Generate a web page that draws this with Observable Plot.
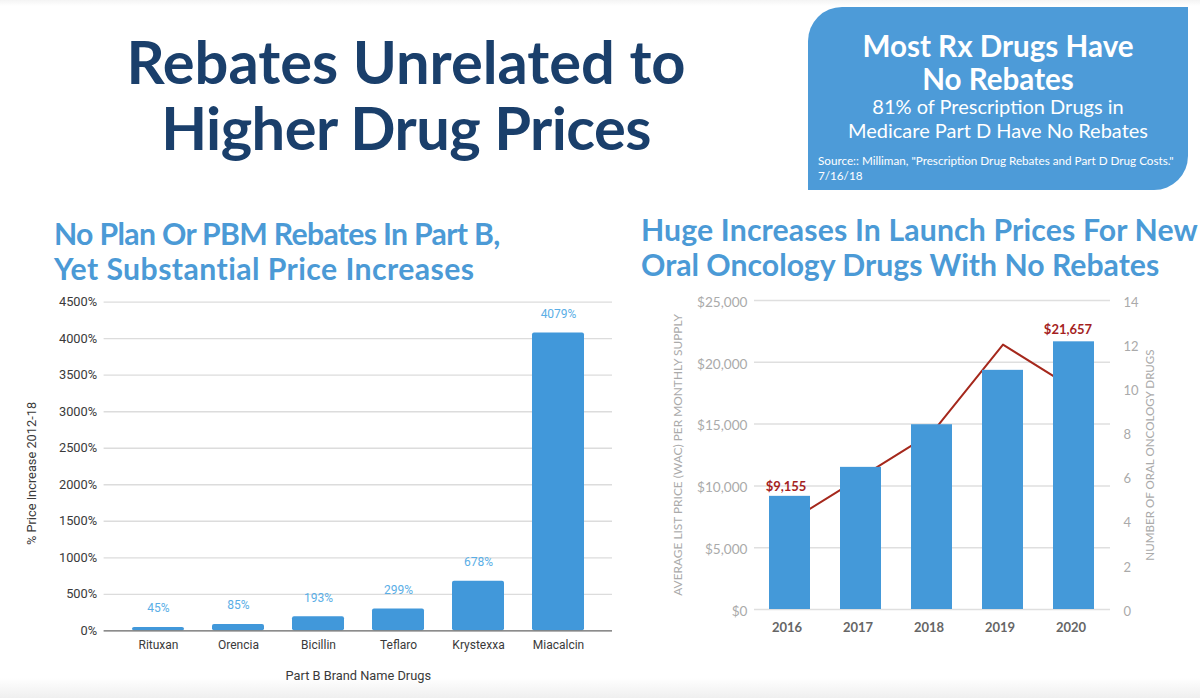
<!DOCTYPE html>
<html>
<head>
<meta charset="utf-8">
<script src="https://cdn.jsdelivr.net/npm/d3@7"></script>
<script src="https://cdn.jsdelivr.net/npm/@observablehq/plot@0.6"></script>
<style>
html,body{margin:0;padding:0;background:#fff}
#page{position:relative;width:1200px;height:698px;overflow:hidden;font-family:Lato,sans-serif;
 background:linear-gradient(to bottom,#f4f4f4 0,#fff 6px,#fff 678px,#efefef 698px)}
#page>*{position:absolute}
.title{left:56px;width:700px;top:28px;text-align:center;color:#1a3f6b;font-weight:700;font-size:59.6px;line-height:66px}
.sub{color:#4b9ad6;font-weight:700;font-size:30.2px;line-height:35px;white-space:nowrap}
#box{left:808px;top:7px;width:380px;height:183px;background:#4d9bd8;border-radius:34px 0 34px 0;color:#fff;text-align:center}
#box div{position:absolute;left:0;width:100%;white-space:nowrap}
#plotL{left:0;top:280px}
#plotR{left:640px;top:280px}
svg{background:transparent!important}
</style>
</head>
<body>
<div id="page">
  <div class="title">Rebates Unrelated to<br><span style="letter-spacing:-0.55px">Higher Drug Prices</span></div>
  <div id="box">
    <div style="top:22px;font-size:29.6px;line-height:33px;font-weight:700">Most Rx Drugs Have<br>No Rebates</div>
    <div style="top:87px;font-size:20px;line-height:24px">81% of Prescription Drugs in<br>Medicare Part D Have No Rebates</div>
    <div style="top:146px;left:10px;text-align:left;font-size:11.7px;line-height:14.5px">Source:: Milliman, "Prescription Drug Rebates and Part D Drug Costs."<br>7/16/18</div>
  </div>
  <div class="sub" style="left:54px;top:216px"><span style="letter-spacing:-0.67px">No Plan Or PBM Rebates In Part B,</span><br><span style="letter-spacing:0.43px">Yet Substantial Price Increases</span></div>
  <div class="sub" style="left:641px;top:212px"><span style="letter-spacing:0.15px">Huge Increases In Launch Prices For New</span><br>Oral Oncology Drugs With No Rebates</div>
  <div id="plotL"></div>
  <div id="plotR"></div>
</div>
<script>
const drugs = ["Rituxan","Orencia","Bicillin","Teflaro","Krystexxa","Miacalcin"];
const increases = [45,85,193,299,678,4079];
const percentTicks = [0,500,1000,1500,2000,2500,3000,3500,4000,4500];

const years = ["2016","2017","2018","2019","2020"];
const avgPrice = [9155,11500,14950,19350,21657];
const drugCounts = [4,6,8,12,10];
const priceTicks = [0,5000,10000,15000,20000,25000];
const countTicks = [0,2,4,6,8,10,12,14];

const barBlue = "#4198da";
const chartLeft = Plot.plot({
  width:620,height:418,marginTop:21.7,marginBottom:67.7,marginLeft:103.6,marginRight:8,
  style:{fontFamily:"Roboto,sans-serif",fontSize:"12px",background:"transparent"},
  x:{domain:drugs,range:[116.8,599.2],paddingInner:0.35,paddingOuter:0.175,label:null},
  y:{domain:[0,4500],label:null},
  marks:[
    Plot.ruleY(percentTicks.filter(d=>d>0),{stroke:"#dcdcdc",strokeWidth:1.3}),
    Plot.barY(drugs.map((d,i)=>({d,v:increases[i]})),{x:"d",y:"v",fill:barBlue,rx:2}),
    Plot.ruleY([0],{stroke:"#666",strokeWidth:1.3}),
    Plot.text(drugs.map((d,i)=>({d,v:increases[i]})),{x:"d",y:"v",text:d=>d.v+"%",dy:-19,fill:"#5aaee6",fontSize:12}),
    Plot.axisY({ticks:percentTicks,tickFormat:d=>d+"%",tickSize:0,tickPadding:7,label:null,fill:"#3a3a3a",fontSize:12.8}),
    Plot.axisX({tickSize:0,tickPadding:10,label:null,fill:"#3a3a3a",fontSize:12}),
    Plot.text(["Part B Brand Name Drugs"],{frameAnchor:"bottom",dy:49,fill:"#3a3a3a",fontSize:12.8}),
    Plot.text(["% Price Increase 2012-18"],{frameAnchor:"left",textAnchor:"middle",dx:-72.5,dy:7,rotate:-90,fill:"#3a3a3a",fontSize:12.8})
  ]
});
document.getElementById("plotL").append(chartLeft);

const k = 25000/14;
const gray = "#aaaaaa";
const red = "#a51f1f";
const chartRight = Plot.plot({
  width:560,height:360,marginTop:20,marginBottom:31,marginLeft:114,marginRight:90,
  style:{fontFamily:"Lato,sans-serif",background:"transparent"},
  x:{domain:years,range:[113.3,470.7],paddingInner:0.42,paddingOuter:0.21,label:null},
  y:{domain:[0,25000],label:null},
  marks:[
    Plot.ruleY(priceTicks,{stroke:"#dfdfdf",strokeWidth:1.5}),
    Plot.line(years.map((d,i)=>({d,c:drugCounts[i]*k})),{x:"d",y:"c",stroke:"#a5281c",strokeWidth:2}),
    Plot.barY(years.map((d,i)=>({d,v:avgPrice[i]})),{x:"d",y:"v",fill:"#4499d9"}),
    Plot.text(["$9,155"],{x:[years[0]],y:[avgPrice[0]],dx:-4,dy:-10,fill:red,fontWeight:"bold",fontSize:13}),
    Plot.text(["$21,657"],{x:[years[4]],y:[avgPrice[4]],dx:-6,dy:-12,fill:red,fontWeight:"bold",fontSize:13}),
    Plot.axisY({ticks:priceTicks,tickFormat:d=>"$"+d3.format(",")(d),tickSize:0,tickPadding:7,dy:2,label:null,fill:gray,fontSize:13.6}),
    Plot.axisY({anchor:"right",ticks:countTicks.map(c=>c*k),tickFormat:d=>String(Math.round(d/k)),tickSize:0,tickPadding:13,dy:2,label:null,fill:gray,fontSize:13}),
    Plot.axisX({tickSize:0,tickPadding:13,dx:-3,label:null,fill:"#666",fontWeight:"bold",fontSize:13}),
    Plot.text(["AVERAGE LIST PRICE (WAC) PER MONTHLY SUPPLY"],{frameAnchor:"left",textAnchor:"middle",dx:-76,rotate:-90,fill:gray,fontSize:11.9}),
    Plot.text(["NUMBER OF ORAL ONCOLOGY DRUGS"],{frameAnchor:"right",textAnchor:"middle",dx:40,rotate:-90,fill:gray,fontSize:11.6})
  ]
});
document.getElementById("plotR").append(chartRight);
</script>
</body>
</html>
